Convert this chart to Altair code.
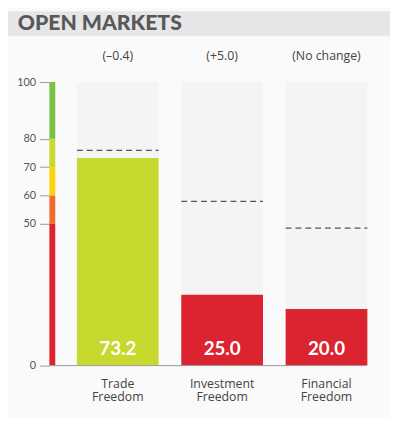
import altair as alt
import pandas as pd

title = "OPEN MARKETS"
categories = ["Trade Freedom", "Investment Freedom", "Financial Freedom"]
scores = [73.2, 25.0, 20.0]
changes = ["(\u20130.4)", "(+5.0)", "(No change)"]
averages = [75.9, 57.9, 48.5]
scale_lo = [0, 50, 60, 70, 80]
scale_hi = [50, 60, 70, 80, 100]
tick_values = [0, 50, 60, 70, 80, 100]
band_colors = ["#dc2430", "#f26b2e", "#fdd20a", "#c7d92f", "#7ac143"]

FONT = "Lato"
FONT2 = "Open Sans"

df = pd.DataFrame({
    "category": categories,
    "score": scores,
    "change": changes,
    "avg": averages,
    "full": [100] * len(categories),
})
scale_df = pd.DataFrame({"lo": scale_lo, "hi": scale_hi})
title_df = pd.DataFrame({"t": [title]})

color_scale = alt.Scale(type="threshold", domain=[50, 60, 70, 80], range=band_colors)
yscale = alt.Scale(domain=[0, 100], nice=False)
xscale = alt.Scale(range=[28, 323], paddingInner=0.217, paddingOuter=0)

yaxis = alt.Axis(title=None, values=tick_values, domain=False, grid=False,
                 tickColor="#999", tickSize=10, tickWidth=1,
                 labelColor="#555", labelFontSize=11, labelPadding=4,
                 labelFont=FONT)
xaxis = alt.Axis(title=None, domain=False, ticks=False, labelAngle=0,
                 labelExpr="split(datum.label, ' ')", labelFontSize=12.5,
                 labelLineHeight=13, labelPadding=12, labelColor="#444",
                 labelFont=FONT2, labelBaseline="top")

def X(**kw):
    return alt.X("category:N", sort=categories, scale=xscale, axis=xaxis, **kw)

header = alt.Chart(title_df).mark_rect(color="#e6e6e6").encode(
    x=alt.value(-50), x2=alt.value(346), y=alt.value(-72), y2=alt.value(-47)
)
title_txt = alt.Chart(title_df).mark_text(
    align="left", baseline="alphabetic", font=FONT, fontSize=21.5,
    fontWeight=900, color="#58585a"
).encode(x=alt.value(-32), y=alt.value(-53), text="t:N")

bg = alt.Chart(df).mark_bar(color="#f4f4f4").encode(
    x=X(),
    y=alt.Y("full:Q", scale=yscale, axis=yaxis),
)
bars = alt.Chart(df).mark_bar().encode(
    x=X(),
    y=alt.Y("score:Q", scale=yscale, axis=yaxis),
    color=alt.Color("score:Q", scale=color_scale, legend=None),
)
avg_rules = alt.Chart(df).mark_rule(color="#555", strokeDash=[6, 4], strokeWidth=1.3).encode(
    x=X(bandPosition=0),
    x2=alt.X2("category", bandPosition=1),
    y=alt.Y("avg:Q", scale=yscale, axis=yaxis),
)
value_txt = alt.Chart(df).mark_text(
    baseline="alphabetic", dy=-11, font=FONT, fontSize=19, fontWeight="bold", color="white"
).encode(
    x=X(),
    y=alt.datum(0),
    text=alt.Text("score:Q", format=".1f"),
)
change_txt = alt.Chart(df).mark_text(
    baseline="middle", font=FONT2, fontSize=12.5, color="#444"
).encode(
    x=X(),
    y=alt.value(-26),
    text="change:N",
)
color_bar = alt.Chart(scale_df).mark_rect().encode(
    x=alt.value(0), x2=alt.value(6),
    y=alt.Y("lo:Q", scale=yscale, axis=yaxis), y2="hi:Q",
    color=alt.Color("lo:Q", scale=color_scale, legend=None),
)
baseline = alt.Chart(title_df).mark_rule(color="#999", strokeWidth=1).encode(
    x=alt.value(0), x2=alt.value(321), y=alt.datum(0)
)

chart = alt.layer(
    header, title_txt, bg, bars, avg_rules, value_txt, change_txt, color_bar, baseline
).properties(
    width=340, height=288,
    autosize=alt.AutoSizeParams(type="none"),
    padding={"left": 42, "top": 72, "right": 6, "bottom": 50},
    background="#fafafa",
).configure_view(stroke=None)

chart.save("out.html", embed_options={"renderer": "svg", "actions": False})
